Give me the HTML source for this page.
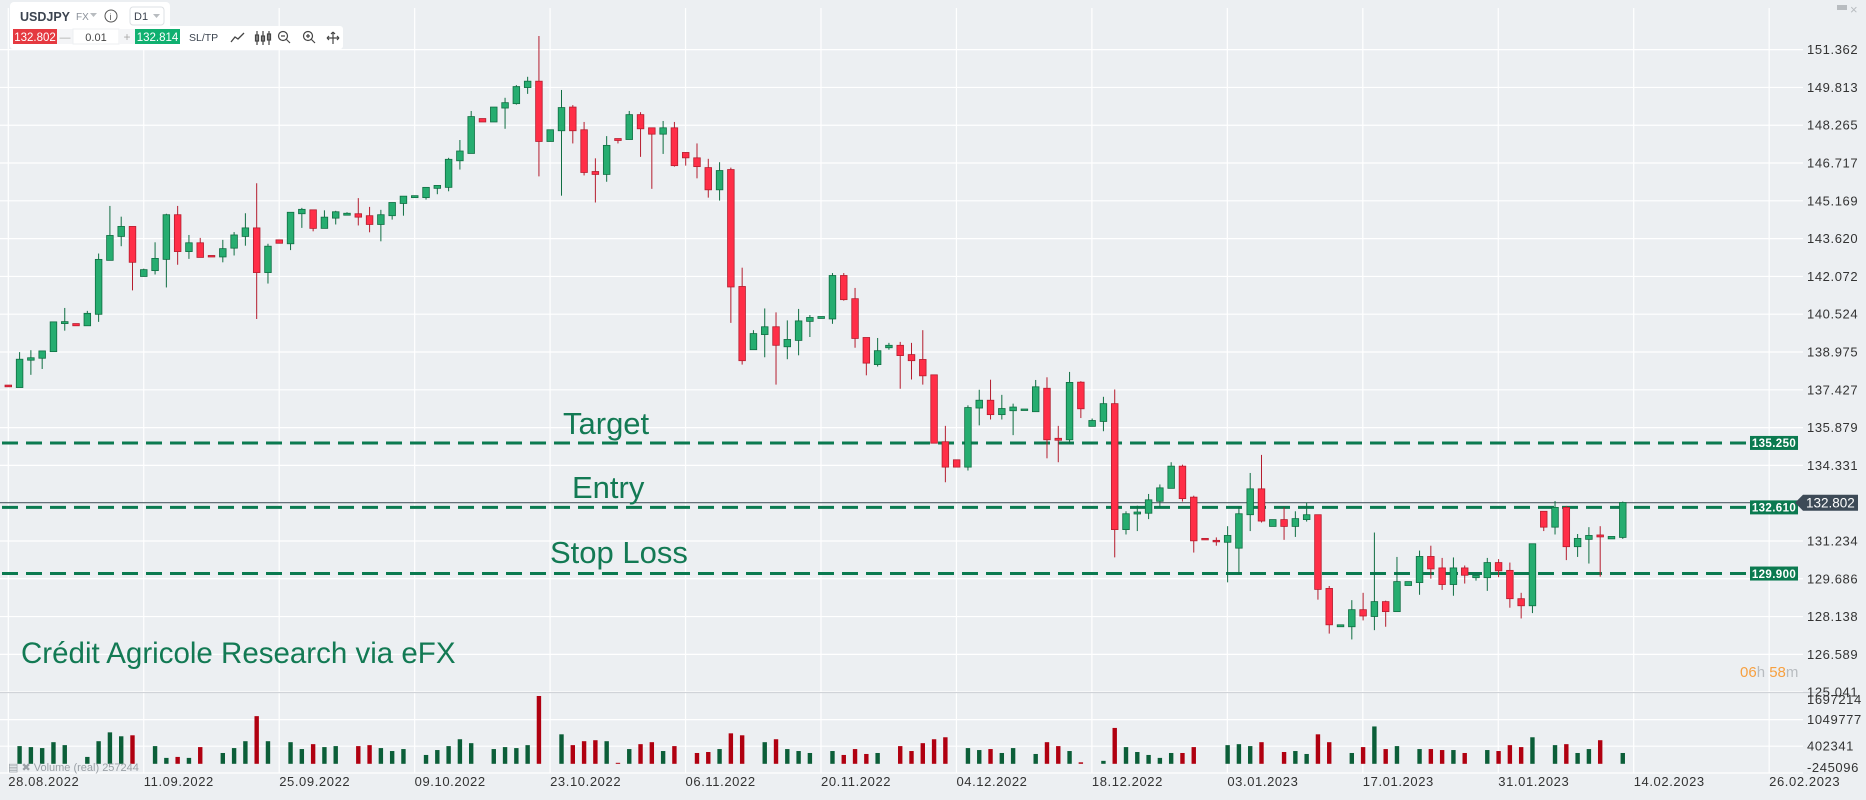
<!DOCTYPE html>
<html><head><meta charset="utf-8"><style>
html,body{margin:0;padding:0;background:#eceff2;}
body{width:1866px;height:800px;overflow:hidden;font-family:"Liberation Sans",sans-serif;}
svg{display:block}
</style></head><body>
<svg id="chart" width="1866" height="800" viewBox="0 0 1866 800" xmlns="http://www.w3.org/2000/svg">
<rect x="0" y="0" width="1866" height="800" fill="#eceff2"/>
<g id="grid"></g>
<g id="levels"></g>
<g id="candles"></g>
<g id="volumes"></g>
<g id="axes"></g>
<text x="563" y="434" font-size="31" fill="#137a54">Target</text>
<text x="572" y="498" font-size="31" fill="#137a54">Entry</text>
<text x="550" y="563" font-size="31" fill="#137a54">Stop Loss</text>
<text x="21" y="663" font-size="29.5" fill="#137a54">Crédit Agricole Research via eFX</text>
<g>
<text x="8" y="771" font-size="11" fill="#9aa0a6">▤ ✖ Volume (real) 257244</text>
</g>
<g>
<text x="1740" y="677" font-size="15" fill="#f7a040">06<tspan fill="#b8bcc0">h</tspan> 58<tspan fill="#b8bcc0">m</tspan></text>
</g>
<g>
<rect x="1837" y="5" width="10" height="5" fill="#b8bcc0"/>
<text x="1850" y="14" font-size="13" fill="#b8bcc0">×</text>
</g>
<g>
<rect x="10" y="2" width="160" height="30" rx="4" fill="#ffffff"/>
<rect x="10" y="26" width="333" height="23" rx="3" fill="#ffffff"/>
<text x="20" y="21" font-size="12.5" font-weight="bold" fill="#3c4450">USDJPY</text>
<text x="76" y="20" font-size="10" fill="#8a9099">FX</text>
<path d="M90 13 L97 13 L93.5 17 Z" fill="#b8bcc0"/>
<circle cx="111" cy="16" r="6" fill="none" stroke="#555" stroke-width="1"/>
<text x="109.5" y="20" font-size="9" fill="#555">i</text>
<rect x="130" y="7" width="34" height="18" rx="3" fill="#fff" stroke="#dde0e4"/>
<text x="134" y="20" font-size="11" fill="#3c4450">D1</text>
<path d="M153 14 L160 14 L156.5 18 Z" fill="#b8bcc0"/>
<rect x="13" y="29" width="44" height="15" fill="#e53940"/>
<text x="35" y="41" font-size="11.5" fill="#fff" text-anchor="middle">132.802</text>
<rect x="57" y="29" width="16" height="15" fill="#f4f5f7"/>
<text x="65" y="41" font-size="11" fill="#aaa" text-anchor="middle">—</text>
<rect x="73" y="29" width="46" height="15" fill="#fff" stroke="#eceff2"/>
<text x="96" y="41" font-size="11" fill="#444" text-anchor="middle">0.01</text>
<rect x="119" y="29" width="16" height="15" fill="#f4f5f7"/>
<text x="127" y="41" font-size="12" fill="#aaa" text-anchor="middle">+</text>
<rect x="135" y="29" width="45" height="15" fill="#10b070"/>
<text x="157.5" y="41" font-size="11.5" fill="#fff" text-anchor="middle">132.814</text>
<text x="189" y="41" font-size="10.5" fill="#3c4450">SL/TP</text>
<path d="M231 42 L235 37 L238 39 L244 33" fill="none" stroke="#444" stroke-width="1.3"/>
<g stroke="#444" stroke-width="1.2" fill="none">
<path d="M257 31 V45 M263 31 V45 M269 31 V45"/><rect x="255.5" y="35" width="3" height="6"/><rect x="261.5" y="36" width="3" height="5"/><rect x="267.5" y="34" width="3" height="6"/></g>
<g stroke="#444" stroke-width="1.2" fill="none"><circle cx="283" cy="36" r="4.5"/><path d="M281 36 H285 M286.5 39.5 L290 43"/></g>
<g stroke="#444" stroke-width="1.2" fill="none"><circle cx="308" cy="36" r="4.5"/><path d="M306 36 H310 M308 34 V38 M311.5 39.5 L315 43"/></g>
<g stroke="#444" stroke-width="1.2" fill="none"><path d="M327 38 H339 M333 32 V44 M327 38 l2 -2 M327 38 l2 2 M339 38 l-2 -2 M339 38 l-2 2 M333 32 l-2 2 M333 32 l2 2"/></g>
</g>
</svg>
<script>
const ticks=[151.362,149.813,148.265,146.717,145.169,143.620,142.072,140.524,138.975,137.427,135.879,134.331,132.783,131.234,129.686,128.138,126.589,125.041];
const dateLabels=["28.08.2022","11.09.2022","25.09.2022","09.10.2022","23.10.2022","06.11.2022","20.11.2022","04.12.2022","18.12.2022","03.01.2023","17.01.2023","31.01.2023","14.02.2023","26.02.2023"];
const volTicks=["1697214","1049777","402341","-245096"];
const openP=[137.62,137.52,138.64,138.72,138.99,140.14,140.14,140.05,140.52,142.73,143.71,144.12,142.07,142.31,142.77,144.60,143.09,143.45,142.93,142.87,143.23,143.71,144.06,142.23,143.57,143.41,144.64,144.80,144.04,144.46,144.58,144.64,144.56,144.20,144.56,145.06,145.30,
145.30,145.68,145.72,146.81,147.11,148.54,148.40,148.97,149.15,149.81,150.07,147.60,148.04,149.01,148.08,146.37,146.25,147.72,147.68,148.70,148.16,147.90,148.16,147.15,146.93,146.53,145.62,146.45,141.66,139.07,139.69,140.01,139.19,139.45,140.23,140.35,
140.33,142.11,141.16,139.57,138.46,139.15,139.25,138.87,138.67,138.04,135.30,134.56,134.26,136.68,137.00,136.41,136.57,136.58,136.53,137.49,135.44,135.38,137.74,135.93,136.13,136.86,131.70,132.34,132.37,132.86,133.39,134.30,133.03,131.34,131.26,131.18,
130.94,132.31,133.37,131.83,132.11,131.83,132.11,132.31,129.29,127.72,127.72,128.42,128.14,128.75,128.34,129.41,129.53,130.60,130.13,129.45,130.13,129.73,129.73,130.35,130.03,128.87,128.58,132.45,131.80,132.61,131.00,131.30,131.48,131.32,131.38];
const closeP=[137.55,138.68,138.74,139.02,140.21,140.22,140.05,140.56,142.77,143.75,144.12,142.65,142.35,142.81,144.60,143.09,143.45,142.85,142.87,143.21,143.77,144.06,142.23,143.31,143.43,144.70,144.82,144.04,144.50,144.72,144.66,144.50,144.20,144.60,145.10,145.36,145.38,
145.72,145.80,146.87,147.21,148.62,148.40,149.01,149.19,149.85,150.07,147.60,148.08,148.99,148.04,146.33,146.25,147.44,147.64,148.70,148.12,147.90,148.16,146.61,146.93,146.57,145.62,146.41,141.64,138.62,139.73,140.01,139.25,139.49,140.25,140.39,140.43,
142.11,141.12,139.53,138.52,139.03,139.25,138.83,138.62,138.00,135.24,134.26,134.26,136.70,137.00,136.41,136.66,136.72,136.64,137.55,135.38,135.36,137.73,136.65,136.17,136.86,131.70,132.35,132.42,132.92,133.41,134.30,132.97,131.24,131.28,131.20,131.46,
132.35,133.37,132.05,132.11,131.83,132.15,132.31,129.25,127.80,127.80,128.42,128.16,128.75,128.34,129.57,129.57,130.60,130.09,129.45,130.13,129.83,129.83,130.35,130.01,128.87,128.58,131.12,131.80,132.61,131.00,131.34,131.46,131.40,131.42,132.81];
const highP=[137.62,138.97,139.05,139.02,140.21,140.78,140.14,140.66,143.01,144.96,144.52,144.12,142.39,143.47,144.64,144.96,143.77,143.65,142.93,143.57,143.89,144.66,145.89,143.41,143.57,144.70,144.88,144.80,144.78,144.76,144.70,145.28,144.92,144.80,145.10,145.36,145.38,
145.72,145.80,146.93,147.66,148.85,148.54,149.01,149.39,149.91,150.25,151.92,148.08,149.71,149.09,148.40,146.91,147.82,147.72,148.85,148.80,148.16,148.44,148.40,147.15,147.52,146.89,146.75,146.53,142.43,139.87,140.76,140.60,140.27,140.74,140.49,140.43,
142.21,142.21,141.60,139.57,139.55,139.35,139.39,139.35,139.87,138.04,135.95,134.56,136.79,137.43,137.84,137.22,136.86,136.64,137.83,137.94,135.95,138.16,137.78,136.25,137.14,137.44,132.45,132.68,133.16,133.55,134.46,134.36,133.09,131.34,131.38,131.84,
132.65,134.02,134.76,132.11,132.61,132.45,132.81,132.31,129.39,127.80,128.81,129.11,131.58,128.79,130.58,129.57,130.84,131.04,130.54,130.56,130.23,129.83,130.54,130.49,130.35,129.11,131.12,132.45,132.87,132.67,131.52,131.80,131.84,131.42,132.85];
const lowP=[137.55,137.52,138.04,138.28,138.99,139.85,140.05,140.05,140.21,142.73,143.31,141.50,142.07,142.15,141.62,142.55,142.79,142.85,142.87,142.65,142.93,143.33,140.33,141.78,143.43,143.15,144.06,143.92,144.04,144.20,144.58,144.16,143.88,143.51,144.40,144.56,145.30,
145.22,145.44,145.56,146.45,147.11,148.40,148.40,148.12,149.11,149.55,146.17,147.60,145.38,147.52,146.21,145.10,145.95,147.52,147.68,146.97,145.66,147.09,146.57,146.61,146.09,145.30,145.18,140.17,138.46,139.07,138.76,137.64,138.68,138.84,139.59,140.35,
140.13,141.08,139.15,138.02,138.38,139.07,137.47,137.85,137.64,135.24,133.64,134.26,134.12,135.97,136.21,136.21,135.57,136.58,136.53,134.62,134.46,135.22,136.27,135.93,135.73,130.56,131.50,131.64,132.13,132.61,133.39,132.85,130.76,131.28,131.04,129.54,
129.87,131.64,131.99,131.83,131.28,131.40,132.03,128.83,127.44,127.72,127.20,127.98,127.58,127.72,128.34,129.41,129.03,129.69,129.23,128.99,129.49,129.61,129.19,129.75,128.50,128.06,128.28,131.64,131.50,130.45,130.58,130.31,129.77,131.32,131.32];
const volumeK=[0,504,476,448,616,532,0,196,644,896,784,812,0,504,168,196,168,476,0,308,448,644,1358,644,0,616,420,560,476,504,0,504,532,448,364,420,0,
252,392,504,700,588,0,420,476,448,532,1932,0,840,532,644,672,644,28,420,560,616,364,504,0,308,336,420,868,812,0,616,700,420,364,308,0,
364,252,420,280,308,0,504,364,588,700,756,0,448,392,420,308,448,0,280,616,504,364,42,0,84,1022,476,336,252,168,308,308,476,0,0,532,
560,504,616,0,336,364,280,840,616,0,308,476,1064,420,504,0,420,420,392,392,308,0,392,364,532,476,756,0,532,560,308,420,672,0,308];
const levelNames=["target","entry","stop-loss"];
const levelPrices=[135.250,132.610,129.900];
const currentPrice=132.802;

const NS="http://www.w3.org/2000/svg";
function mk(tag,attrs,parent){const e=document.createElementNS(NS,tag);for(const k in attrs)e.setAttribute(k,attrs[k]);parent.appendChild(e);return e;}
function yP(p){return 49.65+(151.362-p)*24.41;}
function xI(i){return 8.3+i*11.29;}
function yV(v){return 763.8-v*0.0351;}
const grid=document.getElementById('grid'),axes=document.getElementById('axes'),cg=document.getElementById('candles'),vg=document.getElementById('volumes'),lv=document.getElementById('levels');

ticks.forEach((t,i)=>{
  const y=yP(t);
  const l=mk('line',{x1:0,x2:1803,y1:y,y2:y,stroke:'#ffffff','stroke-width':1.2},grid);
  
  
  const tx=mk('text',{x:1807,y:y+4.5,'font-size':13,fill:'#333','letter-spacing':'0.6'},axes);
  tx.textContent=t.toFixed(3);
  
  
});
dateLabels.forEach((d,i)=>{
  const x=8.3+i*135.45;
  const l=mk('line',{x1:x,x2:x,y1:8,y2:773,stroke:'#ffffff','stroke-width':1.2},grid);
  
  
  const tx=mk('text',{x:x,y:786,'font-size':13,fill:'#333','letter-spacing':'0.6'},axes);
  tx.textContent=d;
  
  
});
[692.6].forEach(y=>{const l=mk('line',{x1:0,x2:1830,y1:y,y2:y,stroke:'#c9cdd2','stroke-width':1},grid);

});
[719.6,746.2,773].forEach(y=>{const l=mk('line',{x1:0,x2:1803,y1:y,y2:y,stroke:'#ffffff','stroke-width':1.2},grid);

});
const volY=[699.5,719.5,746,767.5];
volTicks.forEach((v,i)=>{const tx=mk('text',{x:1807,y:volY[i]+4.5,'font-size':13,fill:'#333','letter-spacing':'0.6'},axes);
tx.textContent=v;

});

const cy=yP(currentPrice);
const cl=mk('line',{x1:0,x2:1796,y1:cy,y2:cy,stroke:'#37474f','stroke-width':1},lv);


const cb=mk('path',{d:`M1795 ${cy} L1803 ${cy-8} L1858 ${cy-8} L1858 ${cy+8} L1803 ${cy+8} Z`,fill:'#3d4a57'},axes);


const ct=mk('text',{x:1806,y:cy+5,'font-size':13.5,fill:'#fff'},axes);
ct.textContent=currentPrice.toFixed(3);



levelPrices.forEach((p,i)=>{
  const y=yP(p);
  const l=mk('line',{x1:2,x2:1750,y1:y,y2:y,stroke:'#0b7a50','stroke-width':3,'stroke-dasharray':'16 8'},lv);
  
  
  const r=mk('rect',{x:1750,y:y-7,width:48,height:14,fill:'#0b7a50'},lv);
  
  
  const t=mk('text',{x:1774,y:y+4.3,'font-size':11.5,'font-weight':'bold',fill:'#fff','text-anchor':'middle','letter-spacing':'0.4'},lv);
  t.textContent=p.toFixed(3);
  
  
});

openP.forEach((o,i)=>{
  const c=closeP[i],up=c>=o,x=xI(i);
  const hi=Math.max(highP[i],o,c),lo=Math.min(lowP[i],o,c);
  const stroke=up?'#0f6e42':'#b51d2e',fill=up?'#26ad70':'#ff2e47';
  const w=mk('line',{x1:x,x2:x,y1:yP(hi),y2:yP(lo),stroke:stroke,'stroke-width':1},cg);
  
  
  const top=yP(Math.max(o,c)),h=Math.max(1.5,yP(Math.min(o,c))-top);
  const b=mk('rect',{x:x-3.3,y:top,width:6.6,height:h,fill:fill,stroke:stroke,'stroke-width':0.8},cg);
  
  
  const v=volumeK[i];
  if(v>0){
    const vb=mk('rect',{x:x-2.2,y:yV(v),width:4.4,height:763.8-yV(v),fill:up?'#0b5e38':'#b00010'},vg);
    
    
  }
});
</script>
</body></html>
